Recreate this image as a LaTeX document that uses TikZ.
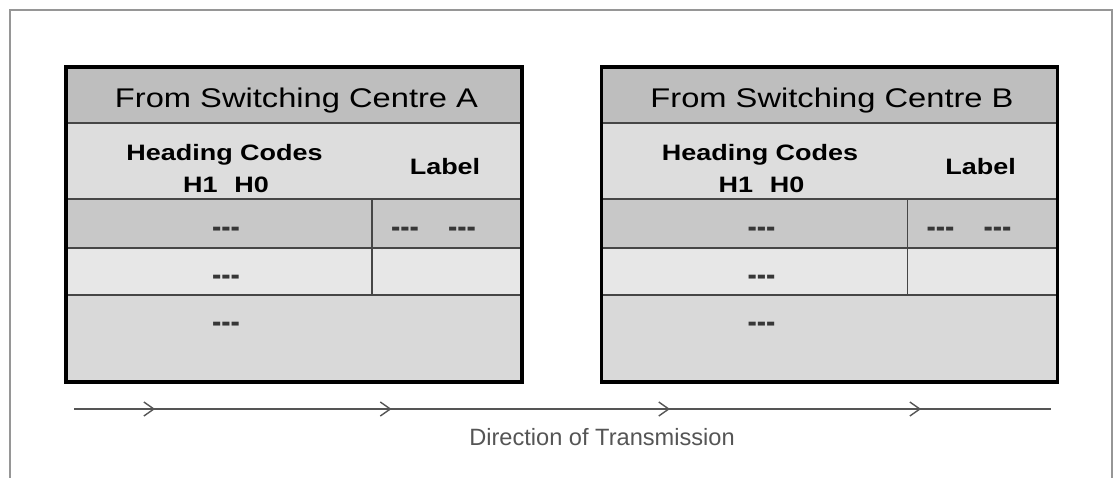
\documentclass[tikz,border=0pt]{standalone}
\usepackage{graphicx}
\usepackage{fontspec}
\setmainfont{Liberation Sans}
\usetikzlibrary{arrows.meta,decorations.markings}
\definecolor{titlegray}{RGB}{190,190,190}
\definecolor{headgray}{RGB}{221,221,221}
\definecolor{rowdark}{RGB}{200,200,200}
\definecolor{rowlight}{RGB}{231,231,231}
\definecolor{rowmid}{RGB}{217,217,217}
\definecolor{framegray}{RGB}{150,150,150}
\definecolor{linegray}{RGB}{70,70,70}
\definecolor{dashgray}{RGB}{55,55,55}
\definecolor{dirgray}{RGB}{85,85,85}
\newcommand{\wx}[1]{\scalebox{1.21}[1]{#1}}
\newcommand{\dashmark}{\scalebox{1.25}[1.45]{-{}-{}-}}
\tikzset{
  chev/.tip={Straight Barb[length=10pt, width=14pt, line width=1.4pt]},
  titletxt/.style={anchor=base, inner sep=0pt, font=\fontsize{27}{27}\selectfont, text=black},
  boldtxt/.style={anchor=base, inner sep=0pt, font=\fontsize{22.3}{22.3}\selectfont\bfseries, text=black},
  dashtxt/.style={anchor=base, inner sep=0pt, font=\fontsize{22.3}{22.3}\selectfont\bfseries, text=dashgray},
  innerline/.style={draw=linegray, line width=1.8pt},
  boxborder/.style={draw=black, line width=3.6pt},
  framestyle/.style={draw=framegray, line width=2pt},
  dirline/.style={draw=dirgray, line width=1.3pt},
  dirtxt/.style={anchor=base, inner sep=0pt, font=\fontsize{23.6}{23.6}\selectfont, text=dirgray},
  pics/switchbox/.style={code={
    \fill[titlegray] (0,0) rectangle (456,56);
    \fill[headgray] (0,56) rectangle (456,132);
    \fill[rowdark] (0,132) rectangle (456,181);
    \fill[rowlight] (0,181) rectangle (456,228);
    \fill[rowmid] (0,228) rectangle (456,315);
    \draw[innerline] (0,56) -- (456,56);
    \draw[innerline] (0,132) -- (456,132);
    \draw[innerline] (0,181) -- (456,181);
    \draw[innerline] (0,228) -- (456,228);
    \draw[innerline] (306,132) -- (306,228);
    \draw[boxborder] (0,0) rectangle (456,315);
    \node[titletxt] (-title) at (230.5,40) {\wx{From Switching Centre #1}};
    \node[boldtxt] (-heading) at (158.5,93) {\wx{Heading Codes}};
    \node[boldtxt] (-codes) at (160,125) {\wx{H1\hspace{14pt}H0}};
    \node[boldtxt] (-label) at (379,107) {\wx{Label}};
    \node[dashtxt] (-d1) at (160,170.5) {\dashmark};
    \node[dashtxt] (-d2) at (339,170.5) {\dashmark};
    \node[dashtxt] (-d3) at (396,170.5) {\dashmark};
    \node[dashtxt] (-d4) at (160,218.5) {\dashmark};
    \node[dashtxt] (-d5) at (160,265.5) {\dashmark};
  }}
}
\begin{document}
\begin{tikzpicture}[x=1pt, y=-1pt]
  \useasboundingbox (0,0) rectangle (1115,477);
  \fill[white] (0,0) rectangle (1115,477);
  \draw[framestyle] (10,480) -- (10,10) -- (1112,10) -- (1112,480);
  \pic (boxA) at (66,67) {switchbox=A};
  \pic (boxB) at (601.5,67) {switchbox=B};
  \coordinate (dstart) at (74,409);
  \coordinate (dend) at (1051,409);
  \draw[dirline, postaction={decorate}, decoration={markings,
      mark=at position 0.083 with {\arrow{chev}},
      mark=at position 0.325 with {\arrow{chev}},
      mark=at position 0.610 with {\arrow{chev}},
      mark=at position 0.867 with {\arrow{chev}}}] (dstart) -- (dend);
  \node[dirtxt] (dir) at (602,445) {Direction of Transmission};
\end{tikzpicture}
\end{document}
